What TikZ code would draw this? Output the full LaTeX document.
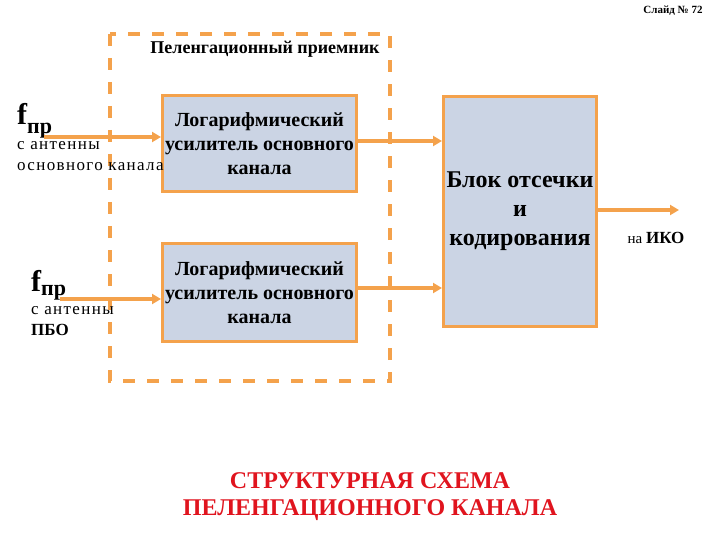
\documentclass[tikz,border=0pt]{standalone}
\usepackage{fontspec}
\setmainfont{Liberation Serif}
\usetikzlibrary{arrows.meta,positioning}
\definecolor{orangeline}{HTML}{F4A24C}
\definecolor{blockfill}{HTML}{CBD4E4}
\definecolor{titlered}{HTML}{E0141E}

\begin{document}
\begin{tikzpicture}[x=1pt,y=-1pt,
  % --- estilos de los bloques ---
  block/.style={
    rectangle,
    draw=orangeline,
    line width=3pt,
    fill=blockfill,
    align=center,
    inner sep=0pt,
    font=\bfseries\fontsize{20}{24}\selectfont
  },
  receiver/.style={
    draw=orangeline,
    line width=4pt,
    dash pattern=on 12pt off 12pt
  },
  line/.style={
    -{Triangle[length=9pt,width=10pt]},
    line width=3.5pt,
    draw=orangeline
  },
  lbl/.style={
    anchor=base west,
    inner sep=0pt,
    font=\fontsize{17}{17}\selectfont\addfontfeatures{LetterSpace=8}
  }
]
\useasboundingbox (0,0) rectangle (720,540);

% ---- PRIEMNIK ----
\draw[receiver] (110,34) rectangle (390,381);
\node[font=\bfseries\fontsize{18}{18}\selectfont] (rx) at (265,49) {Пеленгационный приемник};
\node[font=\bfseries\fontsize{11}{11}\selectfont] (slide) at (673,11) {Слайд № 72};

% ---- BLOQUES ----
\node[block, minimum width=194pt, minimum height=96pt] (amp1) at (259.5,143.5) {Логарифмический\\усилитель основного\\канала};
\node[block, minimum width=194pt, minimum height=98pt] (amp2) at (259.5,292.5) {Логарифмический\\усилитель основного\\канала};
\node[block, minimum width=153pt, minimum height=230pt, font=\bfseries\fontsize{24}{29}\selectfont] (coder) at (520,211.5) {Блок отсечки\\и\\кодирования};

% ---- ENTRADAS ----
\node[anchor=base west, inner sep=0pt] (f1) at (17,125) {\bfseries\fontsize{30}{30}\selectfont f\raisebox{-9pt}{\fontsize{22}{22}\selectfont пр}};
\node[lbl] (ant1) at (17,150) {с антенны};
\node[lbl] (main1) at (17,171) {основного канала};

\node[anchor=base west, inner sep=0pt] (f2) at (31,291) {\bfseries\fontsize{30}{30}\selectfont f\raisebox{-4pt}{\fontsize{22}{22}\selectfont пр}};
\node[lbl] (ant2) at (31,314) {с антенны};
\node[lbl, font=\bfseries\fontsize{17}{17}\selectfont] (pbo) at (31,335) {ПБО};

\coordinate (in1) at (44,137);
\coordinate (in2) at (60,299);
\coordinate (out) at (679,210);

% ---- CONEXIONES ----
\draw[line] (in1) -- (in1 -| amp1.west);
\draw[line] (in2) -- (in2 -| amp2.west);
\draw[line] ([yshift=2.5pt]amp1.east) -- ([yshift=2.5pt]amp1.east -| coder.west);
\draw[line] ([yshift=4.5pt]amp2.east) -- ([yshift=4.5pt]amp2.east -| coder.west);
\draw[line] (coder.east |- out) -- (out);

\node (iko) at (656,238) {\fontsize{15}{15}\selectfont на \bfseries\fontsize{17}{17}\selectfont ИКО};

% ---- TITULO ----
\node[align=center, text=titlered, font=\bfseries\fontsize{24}{27}\selectfont] (title) at (370,497) {СТРУКТУРНАЯ СХЕМА\\ПЕЛЕНГАЦИОННОГО КАНАЛА};

\end{tikzpicture}
\end{document}
